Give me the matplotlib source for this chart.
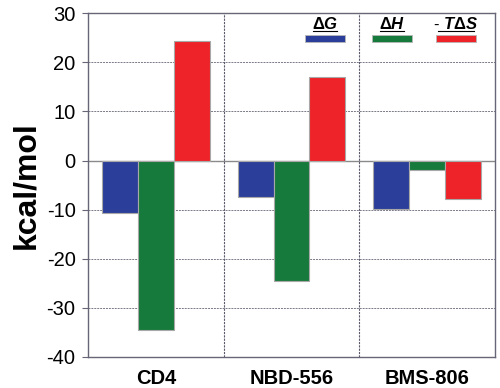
import numpy as np
import matplotlib.pyplot as plt
from matplotlib.patches import Rectangle
from matplotlib.lines import Line2D

plt.rcParams['font.family'] = ['Liberation Sans', 'DejaVu Sans']
plt.rcParams['axes.unicode_minus'] = False
plt.rcParams['mathtext.fontset'] = 'custom'
plt.rcParams['mathtext.rm'] = 'Liberation Sans'
plt.rcParams['mathtext.it'] = 'Liberation Sans:italic'
plt.rcParams['mathtext.bf'] = 'Liberation Sans:bold'
plt.rcParams['mathtext.bfit'] = 'Liberation Sans:bold:italic'

ligands = ['CD4', 'NBD-556', 'BMS-806']
dG = [-10.6, -7.5, -9.8]
dH = [-34.6, -24.6, -2.0]
TdS = [24.4, 17.1, -7.9]
series_labels = [r'$\mathbf{\Delta}\boldsymbol{G}$', r'$\mathbf{\Delta}\boldsymbol{H}$',
                 r'$\mathbf{\text{- }}\boldsymbol{T}\mathbf{\Delta}\boldsymbol{S}$']
colors = ['#2B3F9A', '#167A3C', '#EE2229']

fig = plt.figure(figsize=(5.0, 3.88), dpi=100)
ax = fig.add_axes([0.176, 0.08, 0.814, 0.886])

x = np.arange(len(ligands))
w = 0.265
for i, vals in enumerate([dG, dH, TdS]):
    ax.bar(x + (i - 1) * w, vals, width=w, color=colors[i],
           edgecolor='#A8A8A8', linewidth=0.8, zorder=3)

ax.set_xlim(-0.5, 2.5)
ax.set_ylim(-40, 30)
ax.set_yticks(range(-40, 31, 10))
ax.set_xticks(x)
ax.set_xticklabels(ligands, fontsize=14.5, fontweight='bold')
ax.tick_params(axis='x', length=0, pad=9)
ax.tick_params(axis='y', labelsize=14.5, length=4, color='#666677', pad=5)
ax.set_ylabel('kcal/mol', fontsize=23, fontweight='bold', labelpad=4)

for y in range(-30, 31, 10):
    if y == 0:
        ax.axhline(y, color='#8A8A8A', lw=1.0, zorder=1)
    else:
        ax.axhline(y, color='#7A7A88', lw=0.7, ls=(0, (2, 1)), zorder=1)
for xs in [0.5, 1.5]:
    ax.axvline(xs, color='#5A5A6A', lw=0.8, ls=(0, (2, 1)), zorder=1)

for s in ax.spines.values():
    s.set_color('#666677')
    s.set_linewidth(1.0)

# legend: underlined label above a colored strip
leg_x = [0.582, 0.747, 0.904]
ul_w = [0.058, 0.058, 0.088]
for lx, lab, c, uw in zip(leg_x, series_labels, colors, ul_w):
    ax.text(lx, 0.968, lab, transform=ax.transAxes, ha='center', va='center',
            fontsize=12, color='black')
    ax.add_line(Line2D([lx - uw / 2, lx + uw / 2], [0.947, 0.947], transform=ax.transAxes,
                       color='black', lw=0.8))
    ax.add_patch(Rectangle((lx - 0.05, 0.915), 0.1, 0.022, transform=ax.transAxes,
                           facecolor=c, edgecolor='#B8B8B8', lw=0.6, zorder=4))

fig.savefig('out.png', dpi=100)
